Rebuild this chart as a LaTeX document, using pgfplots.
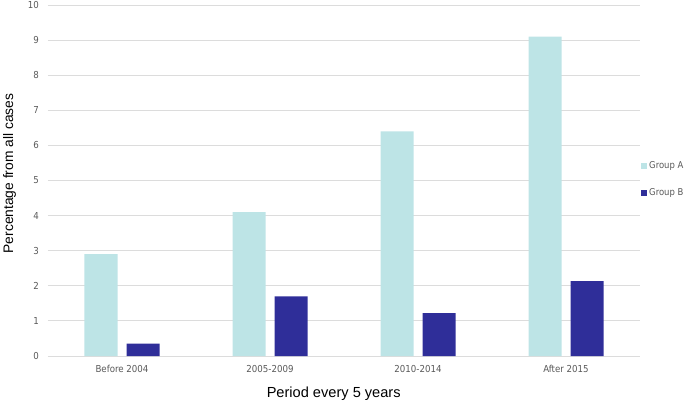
\documentclass[border=0pt]{standalone}
\usepackage{pgfplots}
\pgfplotsset{compat=1.18}
\usepackage{fontspec}
\setmainfont{Liberation Sans}
\newfontfamily\tickfont{DejaVu Sans Condensed}
\definecolor{grpA}{RGB}{189,228,230}
\definecolor{grpB}{RGB}{47,46,153}
\definecolor{gridc}{RGB}{220,220,220}
\definecolor{ticktext}{RGB}{89,89,89}
\begin{document}
\begin{tikzpicture}
\begin{axis}[
  scale only axis,
  width=592pt, height=351pt,
  ybar=9pt, bar width=33pt,
  xmin=-0.5, xmax=3.5,
  ymin=0, ymax=10,
  xtick={0,1,2,3},
  xticklabels={Before 2004,2005-2009,2010-2014,After 2015},
  ytick={0,1,...,10},
  ymajorgrids,
  grid style={gridc, line width=0.9pt},
  axis x line*=bottom,
  axis y line*=left,
  x axis line style={gridc, line width=1pt, -},
  y axis line style={draw=none},
  major tick length=0pt,
  /pgf/number format/assume math mode=true,
  tick label style={font=\tickfont\fontsize{9.6}{11}\selectfont, text=ticktext, inner sep=0pt},
  xticklabel style={anchor=north, yshift=-9pt},
  yticklabel style={anchor=east, xshift=-9pt},
  xlabel={Period every 5 years},
  every axis x label/.style={font=\fontsize{14.6}{16}\selectfont, inner sep=0pt, at={(axis description cs:0.4826,0)}, anchor=north, yshift=-30.7pt},
  ylabel={Percentage from all cases},
  every axis y label/.style={font=\fontsize{13.8}{16}\selectfont, inner sep=0pt, at={(axis description cs:0,0.52)}, xshift=-45pt, rotate=90, anchor=north},
  legend style={draw=none, fill=none, at={(1,0.503)}, anchor=west, xshift=0.7pt,
    inner sep=0pt, row sep=18.6pt,
    font=\tickfont\fontsize{9.4}{11}\selectfont, text=ticktext,
    nodes={inner sep=0pt, text height=7pt, text depth=2pt}},
  legend cell align=left,
  legend image code/.code={\fill[#1] (0pt,-3pt) rectangle (6pt,3pt);},
]
\addplot[fill=grpA, draw=none] coordinates {(0,2.9) (1,4.1) (2,6.4) (3,9.1)};
\addplot[fill=grpB, draw=none] coordinates {(0,0.35) (1,1.7) (2,1.22) (3,2.13)};
\legend{\hspace{2.3pt}Group A,\hspace{2.3pt}Group B}
\coordinate (bl) at (rel axis cs:0,0);
\end{axis}
\pgfresetboundingbox
\path ([shift={(-48pt,-46pt)}]bl) rectangle ([shift={(637pt,356pt)}]bl);
\end{tikzpicture}
\end{document}
